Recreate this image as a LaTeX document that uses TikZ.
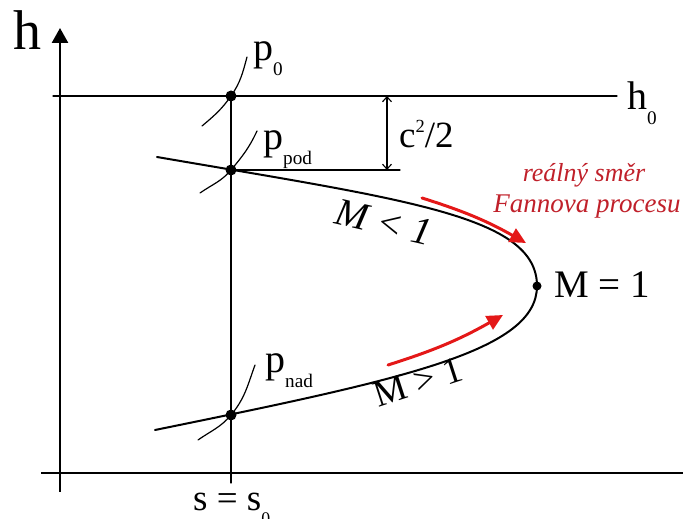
\documentclass[tikz,border=0pt]{standalone}
\usepackage{fontspec}
\setmainfont{Liberation Serif}
\usetikzlibrary{calc,arrows.meta,positioning}
\definecolor{flowred}{RGB}{228,24,24}
\definecolor{notered}{RGB}{192,32,42}
\newcommand{\lo}[1]{\raisebox{-0.36em}{\scalebox{0.48}{#1}}}
\newcommand{\hi}[1]{\raisebox{0.42em}{\scalebox{0.5}{#1}}}

\begin{document}
\begin{tikzpicture}[x=1pt,y=1pt,>=Stealth,line join=round,line cap=round,
  axis/.style={line width=2.6pt,line cap=butt},
  thinline/.style={line width=1.1pt},
  isobar/.style={line width=1.2pt},
  fanno/.style={line width=2pt},
  flow/.style={flowred,line width=3pt,-{Triangle[length=16pt,width=15pt]}},
  lbl/.style={inner sep=0pt,anchor=base west,font=\fontsize{40}{40}\selectfont}]
  \useasboundingbox (0,0) rectangle (683,519);

  \coordinate (hbot) at (60,27);
  \coordinate (htop) at (60,491);
  \coordinate (sleft) at (41,46);
  \coordinate (sright) at (683,46);
  \coordinate (h0l) at (53,423);
  \coordinate (h0r) at (617,423);
  \coordinate (p0) at (231,423);
  \coordinate (ppod) at (231,349);
  \coordinate (pnad) at (231,104);
  \coordinate (sbot) at (231,36);
  \coordinate (A) at (157,362);
  \coordinate (B) at (155,89);
  \coordinate (N) at (537,233);
  \coordinate (cend) at (400,349);
  \coordinate (ctop) at (387,423);
  \coordinate (cbot) at (387,349);

  \draw[axis,-{Triangle[length=15pt,width=16pt]}] (hbot)--(htop);
  \draw[axis] (sleft)--(sright);
  \draw[thinline] (h0l)--(h0r);
  \draw[thinline] (p0)--(sbot);
  \draw[thinline] (ppod)--(cend);
  \draw[thinline,{Straight Barb[length=5pt,width=9pt]}-{Straight Barb[length=5pt,width=9pt]}] (ctop)--(cbot);

  % Fanno line
  \draw[fanno] (A) .. controls (407,319) and (537,303) .. (N) .. controls (537,168) and (405,140) .. (B);

  % isobars
  \draw[isobar] ($(p0)+(-29,-30)$) to[out=40,in=235] (p0) to[out=55,in=255] ($(p0)+(16,39)$);
  \draw[isobar] ($(ppod)+(-31,-23)$) to[out=35,in=230] (ppod) to[out=50,in=245] ($(ppod)+(26,39)$);
  \draw[isobar] ($(pnad)+(-33,-25)$) to[out=35,in=230] (pnad) to[out=50,in=250] ($(pnad)+(24,50)$);

  \fill (p0) circle (5.5);
  \fill (ppod) circle (5.5);
  \fill (pnad) circle (5.5);
  \fill (N) circle (4.5);

  % direction of the real process
  \coordinate (f1s) at (422,321);
  \coordinate (f1e) at (526,276);
  \coordinate (f2s) at (388,154);
  \coordinate (f2e) at (503,204);
  \draw[flow] (f1s) to[bend left=6] (f1e);
  \draw[flow] (f2s) to[bend right=6] (f2e);

  \node[lbl,font=\fontsize{56}{56}\selectfont] (hlab) at (13,469) {h};
  \node[lbl] (p0lab) at (253,458) {p\lo{0}};
  \node[lbl] (ppodlab) at (263,369) {p\lo{pod}};
  \node[lbl] (pnadlab) at (265,146) {p\lo{nad}};
  \node[lbl] (h0lab) at (627,409) {h\lo{0}};
  \node[lbl,font=\fontsize{37}{37}\selectfont] (clab) at (399,371) {c\hi{2}/2};
  \node[lbl,font=\fontsize{39}{39}\selectfont] (Mlab) at (554,221) {M = 1};
  \node[lbl,font=\fontsize{37}{37}\selectfont] (slab) at (193,8) {s = s\lo{0}};
  \node[inner sep=0pt,rotate=-13,font=\fontsize{39}{39}\selectfont\itshape] (sublab) at (384,297) {M < 1};
  \node[inner sep=0pt,rotate=18,font=\fontsize{37}{37}\selectfont] (suplab) at (418,137) {M > 1};
  \node[inner sep=0pt,anchor=base,notered,font=\fontsize{26}{26}\selectfont\itshape] (note1) at (584,337) {reálný směr};
  \node[inner sep=0pt,anchor=base,notered,font=\fontsize{27}{27}\selectfont\itshape] (note2) at (587,306) {Fannova procesu};
\end{tikzpicture}
\end{document}
